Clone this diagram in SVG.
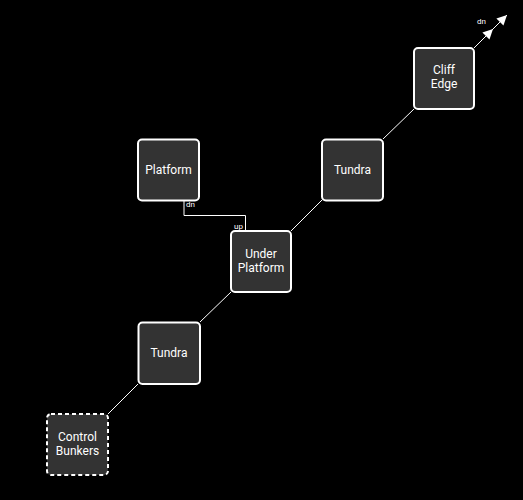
<svg xmlns="http://www.w3.org/2000/svg" width="523" height="500" viewBox="0 0 523 500">
<defs>
<style>
.node rect{fill:#333333;stroke:#ffffff;stroke-width:2}
.node.dashed rect{stroke-dasharray:4 3}
.node text{fill:#ffffff;font-family:Roboto,"Liberation Sans",sans-serif;font-size:12px;text-anchor:middle}
.edge{stroke:#ffffff;stroke-width:1;fill:none}
.lbl{fill:#ffffff;font-family:Roboto,"Liberation Sans",sans-serif;font-size:8px}
</style>
<marker id="arr" viewBox="0 0 10 10" refX="10" refY="5" markerWidth="10" markerHeight="10" markerUnits="userSpaceOnUse" orient="auto">
<path d="M0,0 L10,5 L0,10 z" fill="#ffffff"/>
</marker>
</defs>
<rect width="523" height="500" fill="#000000"/>
<g id="connectors">
<line class="edge" x1="108" y1="414" x2="138" y2="384"/>
<line class="edge" x1="200" y1="322" x2="231" y2="292"/>
<line class="edge" x1="291" y1="231" x2="322" y2="200"/>
<line class="edge" x1="383" y1="139" x2="414" y2="109"/>
<path class="edge" d="M184,200 V215.5 H245.5 V231"/>
<line class="edge" x1="474" y1="48" x2="493" y2="29" marker-end="url(#arr)"/>
<line class="edge" x1="493" y1="29" x2="507" y2="15" marker-end="url(#arr)"/>
<text class="lbl" x="186" y="207">dn</text>
<text class="lbl" x="234" y="229">up</text>
<text class="lbl" x="477" y="24">dn</text>
</g>
<g id="cliff-edge" class="node">
<rect x="414" y="48" width="60" height="61" rx="4"/>
<text x="444" y="74">Cliff</text>
<text x="444" y="88">Edge</text>
</g>
<g id="platform" class="node">
<rect x="138" y="139.5" width="61" height="61" rx="4"/>
<text x="168.5" y="174">Platform</text>
</g>
<g id="tundra-top" class="node">
<rect x="322" y="139.5" width="61" height="61" rx="4"/>
<text x="352.5" y="174">Tundra</text>
</g>
<g id="under-platform" class="node">
<rect x="231" y="231" width="60" height="61" rx="4"/>
<text x="261" y="258">Under</text>
<text x="261" y="272">Platform</text>
</g>
<g id="tundra-bottom" class="node">
<rect x="138.5" y="322.5" width="61.5" height="61.5" rx="4"/>
<text x="169" y="357">Tundra</text>
</g>
<g id="control-bunkers" class="node dashed">
<rect x="47" y="414" width="61" height="61" rx="4"/>
<text x="77.5" y="441">Control</text>
<text x="77.5" y="455">Bunkers</text>
</g>
</svg>
